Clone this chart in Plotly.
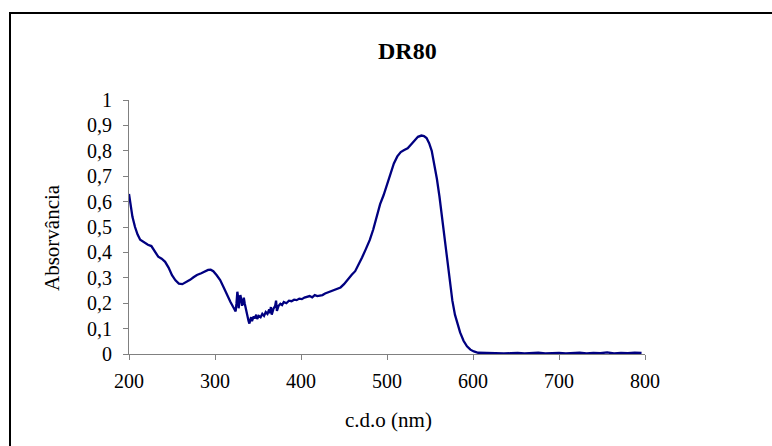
import plotly.graph_objects as go

wavelength = [200, 202, 204, 207, 210, 213, 217, 222, 226, 230, 234, 238, 242, 246, 250, 254, 258, 262, 266, 271,
              275, 279, 284, 288, 292, 295, 298, 302, 306, 310, 314, 318, 321, 323, 324, 325, 326, 327, 327.5, 328.5,
              329.5, 330.5, 331.5, 332.5, 333.5, 334.5, 336, 337, 339, 340, 341, 342, 343, 345, 346, 348, 349, 351,
              353, 355, 357, 359, 361, 363, 364, 365, 366, 368, 370, 371, 372, 374, 376, 378, 380, 383, 386, 389,
              392, 395, 398, 401, 404, 407, 410, 413, 416, 419, 422, 425, 428, 431, 434, 437, 440, 443, 446, 450,
              455, 459, 463, 467, 471, 475, 480, 484, 488, 492, 496, 500, 504, 508, 512, 516, 520, 524, 528, 532,
              536, 540, 543, 546, 549, 552, 555, 558, 561, 564, 567, 570, 573, 576, 579, 582, 585, 589, 593, 597,
              601, 606, 612, 620, 628, 636, 644, 652, 660, 668, 676, 684, 692, 700, 708, 716, 724, 732, 740, 748,
              756, 764, 772, 780, 788, 796, 800]
absorbance = [0.63, 0.58, 0.54, 0.50, 0.47, 0.45, 0.44, 0.43, 0.425, 0.405, 0.383, 0.375, 0.363, 0.34, 0.31, 0.29,
              0.277, 0.275, 0.282, 0.292, 0.302, 0.311, 0.318, 0.325, 0.331, 0.332, 0.326, 0.31, 0.291, 0.263, 0.232,
              0.205, 0.186, 0.175, 0.168, 0.20, 0.245, 0.22, 0.18, 0.21, 0.232, 0.215, 0.19, 0.205, 0.222, 0.20,
              0.175, 0.155, 0.13, 0.12, 0.135, 0.145, 0.13, 0.148, 0.14, 0.155, 0.138, 0.15, 0.145, 0.158, 0.15,
              0.165, 0.158, 0.175, 0.16, 0.185, 0.155, 0.178, 0.19, 0.21, 0.17, 0.19, 0.198, 0.193, 0.205, 0.20,
              0.21, 0.208, 0.214, 0.212, 0.218, 0.216, 0.222, 0.225, 0.228, 0.223, 0.232, 0.228, 0.23, 0.232, 0.238,
              0.242, 0.245, 0.25, 0.253, 0.257, 0.262, 0.275, 0.298, 0.312, 0.326, 0.35, 0.38, 0.41, 0.449, 0.49,
              0.54, 0.59, 0.625, 0.67, 0.715, 0.75, 0.778, 0.795, 0.803, 0.81, 0.825, 0.842, 0.855, 0.86, 0.858,
              0.85, 0.83, 0.80, 0.75, 0.69, 0.62, 0.54, 0.46, 0.38, 0.29, 0.21, 0.155, 0.12, 0.085, 0.052, 0.03,
              0.017, 0.010, 0.005, 0.004, 0.003, 0.004, 0.002, 0.003, 0.004, 0.002, 0.003, 0.005, 0.002, 0.003,
              0.004, 0.002, 0.003, 0.005, 0.002, 0.004, 0.003, 0.006, 0.002, 0.004, 0.003, 0.005, 0.004]

y_ticks = [0, 0.1, 0.2, 0.3, 0.4, 0.5, 0.6, 0.7, 0.8, 0.9, 1]
y_tick_labels = ["0", "0,1", "0,2", "0,3", "0,4", "0,5", "0,6", "0,7", "0,8", "0,9", "1"]
x_ticks = [200, 300, 400, 500, 600, 700, 800]

FONT = "Liberation Serif"

fig = go.Figure()
fig.add_trace(go.Scatter(x=wavelength, y=absorbance, mode="lines",
                         line=dict(color="#000080", width=2.3), showlegend=False))

fig.update_layout(
    width=772, height=446,
    margin=dict(l=129, r=127, t=100, b=92),
    paper_bgcolor="white", plot_bgcolor="white",
    font=dict(family=FONT, size=16, color="black"),
    xaxis=dict(range=[200, 800], tickvals=x_ticks, ticks="outside", ticklen=5,
               tickcolor="#808080", showline=True, linecolor="#808080", linewidth=1,
               ticklabelstandoff=4,
               showgrid=False, zeroline=False, tickfont=dict(size=20, family=FONT, color="black")),
    yaxis=dict(range=[0, 1], tickvals=y_ticks, ticktext=y_tick_labels, ticks="outside", ticklen=5,
               tickcolor="#808080", showline=True, linecolor="#808080", linewidth=1,
               ticklabelstandoff=7,
               showgrid=False, zeroline=False, tickfont=dict(size=20, family=FONT, color="black")),
)

fig.add_annotation(text="<b>DR80</b>", xref="paper", yref="paper", x=(407 - 129) / 516, y=(354 - 51) / 254,
                   showarrow=False, font=dict(size=24, family=FONT), xanchor="center", yanchor="middle")
fig.add_annotation(text="Absorvância", xref="paper", yref="paper", x=(52 - 129) / 516, y=(354 - 238) / 254,
                   showarrow=False, textangle=-90, font=dict(size=21, family=FONT),
                   xanchor="center", yanchor="middle")
fig.add_annotation(text="c.d.o (nm)", xref="paper", yref="paper", x=(388 - 129) / 516, y=(354 - 420) / 254,
                   showarrow=False, font=dict(size=21, family=FONT), xanchor="center", yanchor="middle")

fig.add_shape(type="rect", xref="paper", yref="paper",
              x0=(10 - 129) / 516, x1=(776 - 129) / 516,
              y0=(354 - 452) / 254, y1=(354 - 13) / 254,
              line=dict(color="black", width=2), fillcolor="rgba(0,0,0,0)", layer="below")

fig.write_html("out.html")
